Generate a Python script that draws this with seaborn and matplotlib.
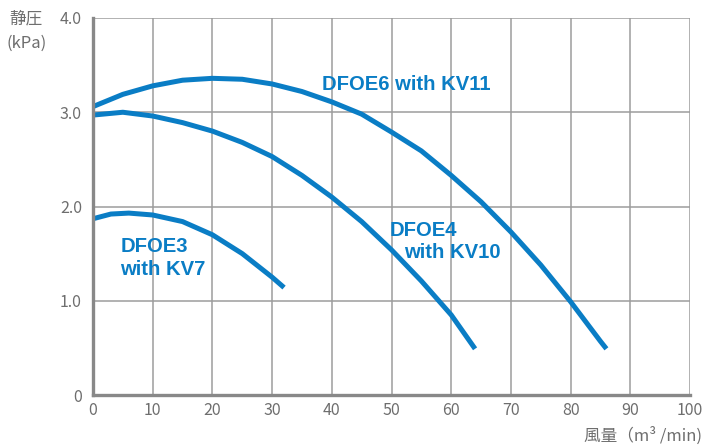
import matplotlib
matplotlib.use("Agg")
import matplotlib.pyplot as plt
import seaborn as sns
import pandas as pd

# airflow (m3/min) and static pressure (kPa)
flow_e6 = [0, 5, 10, 15, 20, 25, 30, 35, 40, 45, 50, 55, 60, 65, 70, 75, 80, 85, 86]
pres_e6 = [3.06, 3.19, 3.28, 3.34, 3.36, 3.35, 3.30, 3.22, 3.11, 2.98, 2.79, 2.59,
           2.33, 2.05, 1.73, 1.38, 0.99, 0.57, 0.49]
flow_e4 = [0, 5, 10, 15, 20, 25, 30, 35, 40, 45, 50, 55, 60, 64]
pres_e4 = [2.97, 3.0, 2.96, 2.89, 2.80, 2.68, 2.53, 2.33, 2.10, 1.84, 1.54, 1.21,
           0.85, 0.49]
flow_e3 = [0, 3, 6, 10, 15, 20, 25, 30, 32]
pres_e3 = [1.87, 1.92, 1.93, 1.91, 1.84, 1.70, 1.50, 1.25, 1.14]

names = ["DFOE6 with KV11", "DFOE4 with KV10", "DFOE3 with KV7"]
x_ticks = [0, 10, 20, 30, 40, 50, 60, 70, 80, 90, 100]
y_ticks = [0, 1.0, 2.0, 3.0, 4.0]
y_labels = ["0", "1.0", "2.0", "3.0", "4.0"]

rows = []
for name, xs, ys in zip(names, [flow_e6, flow_e4, flow_e3], [pres_e6, pres_e4, pres_e3]):
    for x, y in zip(xs, ys):
        rows.append({"model": name, "flow": x, "pressure": y})
df = pd.DataFrame(rows)

sns.set_style("white")
plt.rcParams['font.family'] = ['Noto Sans CJK JP', 'DejaVu Sans']

blue = "#0a7dc5"
grid_c = "#9c9c9c"
txt_c = "#6e6e6e"

fig = plt.figure(figsize=(7.1, 4.47), dpi=100)
ax = fig.add_axes([93 / 710, 52 / 447, 597 / 710, 377 / 447])

sns.lineplot(data=df, x="flow", y="pressure", hue="model", estimator=None,
             palette=[blue] * 3, linewidth=3.6, legend=False, ax=ax,
             solid_capstyle="butt", solid_joinstyle="round")

ax.set_xlim(0, 100)
ax.set_ylim(0, 4.0)
ax.set_xticks(x_ticks)
ax.set_yticks(y_ticks)
ax.set_yticklabels(y_labels)
ax.grid(True, color=grid_c, linewidth=1.1)
ax.set_axisbelow(True)
for side in ["top", "right"]:
    ax.spines[side].set_visible(False)
for side in ["left", "bottom"]:
    ax.spines[side].set_color("#888888")
    ax.spines[side].set_linewidth(2.4)
ax.tick_params(axis="both", length=0, labelcolor=txt_c, labelsize=11.5)
ax.tick_params(axis="y", pad=8)
ax.tick_params(axis="x", pad=5)
ax.set_xlabel("")
ax.set_ylabel("")

fig.text(9 / 710, 1 - 19 / 447, "静圧", color=txt_c, fontsize=12,
         va="center", ha="left")
fig.text(7 / 710, 1 - 43 / 447, "(kPa)", color=txt_c, fontsize=12,
         va="center", ha="left")
fig.text(702 / 710, 1 - 436 / 447, "風量（m³ /min)", color=txt_c, fontsize=12,
         va="center", ha="right")

lab = dict(color=blue, fontsize=14.6, fontweight="bold", family="Liberation Sans")
ax.text(38.4, 3.29, "DFOE6 with KV11", ha="left", va="center", **lab)
ax.text(49.7, 1.75, "DFOE4", ha="left", va="center", **lab)
ax.text(52.1, 1.51, "with KV10", ha="left", va="center", **lab)
ax.text(4.6, 1.58, "DFOE3", ha="left", va="center", **lab)
ax.text(4.6, 1.33, "with KV7", ha="left", va="center", **lab)

fig.savefig("out.png", dpi=100)
